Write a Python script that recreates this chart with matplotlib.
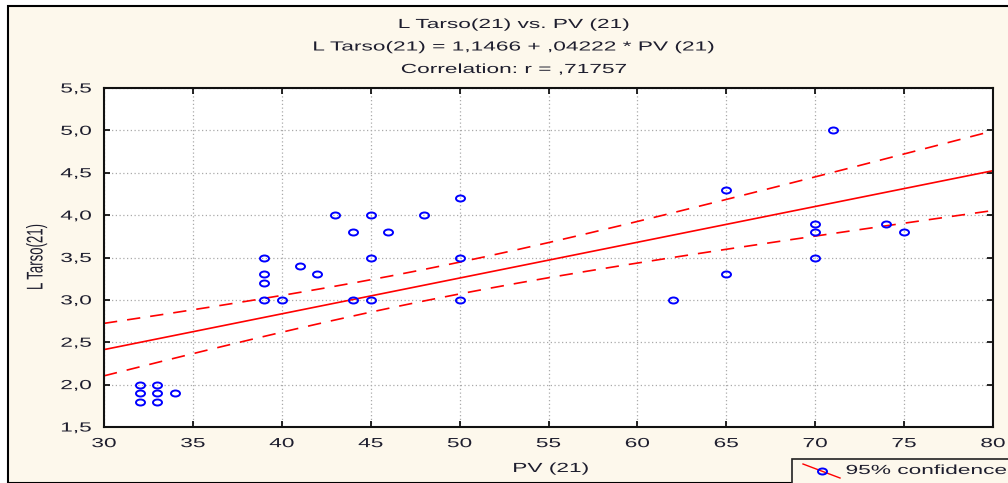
import numpy as np
import matplotlib.pyplot as plt
from matplotlib.patches import Rectangle
from matplotlib.lines import Line2D
from matplotlib.path import Path
from matplotlib.markers import MarkerStyle
from matplotlib.transforms import Affine2D
from matplotlib.patheffects import AbstractPathEffect
from matplotlib.ticker import FuncFormatter

plt.rcParams['font.family'] = ['Liberation Sans', 'DejaVu Sans']

# PV (21) and L Tarso(21) values
pv = [32, 32, 32, 33, 33, 33, 34, 39, 39, 39, 39, 40, 41, 42, 43, 44, 44,
      45, 45, 45, 46, 48, 50, 50, 50, 62, 65, 65, 70, 70, 70, 71, 74, 75]
tarso = [2.0, 1.9, 1.8, 2.0, 1.9, 1.8, 1.9, 3.5, 3.3, 3.2, 3.0, 3.0, 3.4,
         3.3, 4.0, 3.8, 3.0, 4.0, 3.5, 3.0, 3.8, 4.0, 4.2, 3.5, 3.0, 3.0,
         4.3, 3.3, 3.9, 3.8, 3.5, 5.0, 3.9, 3.8]
intercept = 1.1466
slope = 0.04222
t_crit = 2.0369  # t(0.975, df=32)
se_scale = 0.87  # band in the picture is a bit narrower than the read-off points give

x_ticks = [30, 35, 40, 45, 50, 55, 60, 65, 70, 75, 80]
y_ticks = [1.5, 2.0, 2.5, 3.0, 3.5, 4.0, 4.5, 5.0, 5.5]

x = np.array(pv, dtype=float)
y = np.array(tarso)
n = len(x)
resid = y - (intercept + slope * x)
s = np.sqrt(np.sum(resid ** 2) / (n - 2)) * se_scale
sxx = np.sum((x - x.mean()) ** 2)
xs = np.linspace(30, 80, 200)
fit = intercept + slope * xs
half = t_crit * s * np.sqrt(1.0 / n + (xs - x.mean()) ** 2 / sxx)


class StretchX(AbstractPathEffect):
    """Widen text horizontally, the source picture is stretched."""

    def __init__(self, sx, anchor):
        super().__init__()
        self.sx = sx
        self.anchor = anchor

    def draw_path(self, renderer, gc, tpath, affine, rgbFace=None):
        bb = tpath.get_extents(affine)
        px = bb.x0 + self.anchor * bb.width
        aff = affine + Affine2D().translate(-px, 0).scale(self.sx, 1).translate(px, 0)
        renderer.draw_path(gc, tpath, aff, rgbFace)


SX = 1.72
FS = 9.5
txt_col = '#1e1e2e'

cream = '#fdf8ec'
fig = plt.figure(figsize=(10.08, 4.83), dpi=100)
fig.patch.set_facecolor('white')
W, H = 1008, 483
fig.patches.append(Rectangle((8 / W, 0), 1.2, (H - 6) / H, transform=fig.transFigure,
                             facecolor=cream, edgecolor='black', linewidth=1.5, zorder=-10))

ax = fig.add_axes([104 / W, 1 - 427 / H, (993 - 104) / W, (427 - 88) / H])
ax.set_facecolor('white')

ax.plot(xs, fit, color='#ff0000', linewidth=1.2)
ax.plot(xs, fit + half, color='#ff0000', linewidth=1.2, dashes=(8, 6))
ax.plot(xs, fit - half, color='#ff0000', linewidth=1.2, dashes=(8, 6))

oval = Path.unit_circle().transformed(Affine2D().scale(1.5, 1.0))
ax.plot(x, y, linestyle='none', marker=MarkerStyle(oval), markersize=6.5,
        markerfacecolor='none', markeredgecolor='#0000ff', markeredgewidth=1.4)

ax.set_xlim(30, 80)
ax.set_ylim(1.5, 5.5)
ax.set_xticks(x_ticks)
ax.set_yticks(y_ticks)
ax.yaxis.set_major_formatter(FuncFormatter(lambda v, p: f'{v:.1f}'.replace('.', ',')))
ax.tick_params(direction='in', top=True, right=True, length=4, width=1.2,
               labelsize=FS, labelcolor=txt_col)
ax.tick_params(axis='x', pad=8)
ax.tick_params(axis='y', pad=9)
ax.grid(True, color='#aaaaaa', linestyle=(0, (1, 2)), linewidth=0.9)
for sp in ax.spines.values():
    sp.set_linewidth(1.5)
    sp.set_color('#111111')

fig.text(37 / W, 1 - 257 / H, 'L Tarso(21)', rotation=90, ha='center', va='center',
         fontsize=FS, color=txt_col, path_effects=[StretchX(SX, 0.5)])
fig.text(551 / W, 1 - 469 / H, 'PV (21)', ha='center', va='center', fontsize=FS,
         color=txt_col, path_effects=[StretchX(SX, 0.5)])

cx = 514 / W
titles = ['L Tarso(21) vs. PV (21)', 'L Tarso(21) = 1,1466 + ,04222 * PV (21)',
          'Correlation: r = ,71757']
for yy, t in zip([25, 47.5, 70], titles):
    fig.text(cx, 1 - yy / H, t, ha='center', va='center', fontsize=FS, color=txt_col,
             path_effects=[StretchX(SX, 0.5)])

# legend box, cut by the figure edge like the reference
fig.patches.append(Rectangle((792 / W, -0.1), 0.3, 0.1 + (H - 459) / H, transform=fig.transFigure,
                             facecolor=cream, edgecolor='#222222', linewidth=1.2, zorder=5))
fig.lines.append(Line2D([803 / W, 840 / W], [1 - 464 / H, 1 - 478 / H], transform=fig.transFigure,
                        color='#ff0000', linewidth=1.0, zorder=6))
fig.lines.append(Line2D([822 / W], [1 - 471 / H], transform=fig.transFigure,
                        marker=MarkerStyle(oval), markersize=6.5, markerfacecolor='none',
                        markeredgecolor='#0000ff', markeredgewidth=1.4, zorder=7))
fig.text(846 / W, 1 - 471 / H, '95% confidence', ha='left', va='center', fontsize=FS,
         color=txt_col, zorder=8, path_effects=[StretchX(SX, 0.0)])

fig.canvas.draw()
for lbl in ax.get_xticklabels():
    lbl.set_path_effects([StretchX(SX, 0.5)])
for lbl in ax.get_yticklabels():
    lbl.set_path_effects([StretchX(SX, 1.0)])

fig.savefig('out.png', dpi=100, facecolor=fig.get_facecolor())
